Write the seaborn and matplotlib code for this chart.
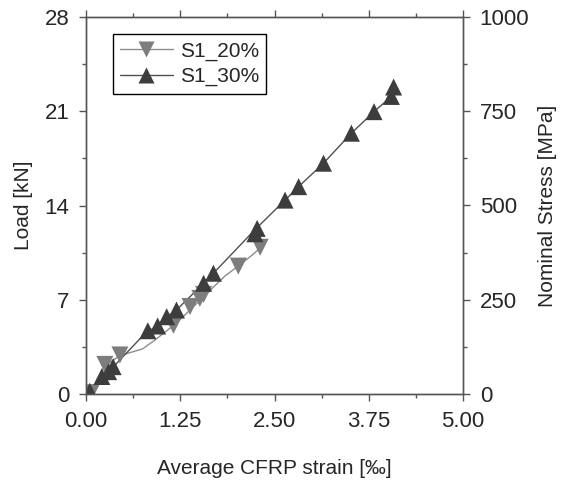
import matplotlib
matplotlib.use("Agg")
import matplotlib.pyplot as plt
from matplotlib.lines import Line2D
from matplotlib.ticker import MultipleLocator
import seaborn as sns
import pandas as pd

sns.set_style("white")
plt.rcParams['font.family'] = ['Liberation Sans', 'DejaVu Sans']

# S1_20% : measured curve and marker points (strain [‰], load [kN])
s20_curve_x = [0.00, 0.07, 0.25, 0.45, 0.60, 0.75, 0.90, 1.05, 1.16, 1.30, 1.40, 1.51, 1.56, 1.70, 1.85, 2.02, 2.12, 2.20, 2.31]
s20_curve_y = [0.00, 0.10, 2.10, 2.85, 3.10, 3.35, 3.95, 4.60, 5.10, 5.80, 6.36, 6.95, 7.20, 8.00, 8.80, 9.50, 9.95, 10.30, 10.85]
s20_mark_x = [0.07, 0.25, 0.45, 1.16, 1.38, 1.51, 1.56, 2.02, 2.31]
s20_mark_y = [0.10, 2.20, 2.90, 5.10, 6.50, 7.10, 7.40, 9.50, 10.90]

# S1_30%
s30_curve_x = [0.00, 0.05, 0.21, 0.30, 0.36, 0.58, 0.80, 0.95, 1.07, 1.20, 1.56, 1.69, 2.24, 2.64, 2.82, 3.15, 3.52, 3.82, 4.05, 4.08]
s30_curve_y = [0.00, 0.20, 1.30, 1.70, 2.00, 3.30, 4.60, 5.05, 5.74, 6.24, 8.22, 8.97, 12.20, 14.40, 15.40, 17.14, 19.37, 20.97, 22.10, 22.80]
s30_mark_x = [0.05, 0.21, 0.30, 0.36, 0.82, 0.95, 1.07, 1.20, 1.56, 1.69, 2.24, 2.27, 2.64, 2.82, 3.15, 3.52, 3.82, 4.05, 4.08]
s30_mark_y = [0.20, 1.30, 1.66, 2.03, 4.70, 5.05, 5.74, 6.24, 8.22, 8.97, 11.90, 12.30, 14.40, 15.40, 17.14, 19.37, 20.97, 22.10, 22.80]

x_ticks = [0.00, 1.25, 2.50, 3.75, 5.00]
x_tick_labels = ["0.00", "1.25", "2.50", "3.75", "5.00"]
load_ticks = [0, 7, 14, 21, 28]
stress_ticks = [0, 250, 500, 750, 1000]

c20_line, c20_mark = "#8c8c8c", "#7d7d7d"
c30_line, c30_mark = "#505050", "#3d3d3d"
axis_col = "#555555"
fs_tick = 16
fs_lab = 15

fig = plt.figure(figsize=(5.61, 4.88), dpi=100)
ax = fig.add_axes([86/561, 1-394/488, (463-86)/561, (394-17)/488])

c20 = pd.DataFrame({"x": s20_curve_x, "y": s20_curve_y})
c30 = pd.DataFrame({"x": s30_curve_x, "y": s30_curve_y})
m20 = pd.DataFrame({"x": s20_mark_x, "y": s20_mark_y})
m30 = pd.DataFrame({"x": s30_mark_x, "y": s30_mark_y})

sns.lineplot(data=c20, x="x", y="y", ax=ax, color=c20_line, lw=1.0, sort=False, estimator=None)
sns.lineplot(data=c30, x="x", y="y", ax=ax, color=c30_line, lw=1.0, sort=False, estimator=None)
sns.scatterplot(data=m20, x="x", y="y", ax=ax, marker="v", s=150, color=c20_mark, edgecolor="none", zorder=3)
sns.scatterplot(data=m30, x="x", y="y", ax=ax, marker="^", s=150, color=c30_mark, edgecolor="none", zorder=4)

ax.set_xlim(0, 5)
ax.set_ylim(0, 28)
ax.set_xticks(x_ticks)
ax.set_xticklabels(x_tick_labels)
ax.set_yticks(load_ticks)
ax.xaxis.set_minor_locator(MultipleLocator(0.625))
ax.yaxis.set_minor_locator(MultipleLocator(3.5))
ax.set_xlabel("Average CFRP strain [‰]", fontsize=fs_lab, labelpad=20)
ax.set_ylabel("Load [kN]", fontsize=fs_lab, labelpad=8)

ax2 = ax.twinx()
ax2.set_ylim(0, 1000)
ax2.set_yticks(stress_ticks)
ax2.yaxis.set_minor_locator(MultipleLocator(125))
ax2.set_ylabel("Nominal Stress [MPa]", fontsize=fs_lab, labelpad=6)

for a in (ax, ax2):
    for sp in a.spines.values():
        sp.set_color(axis_col)
        sp.set_linewidth(1.0)
        sp.set_visible(True)
    a.tick_params(which="major", direction="out", length=5, width=1.0, color=axis_col, labelsize=fs_tick, pad=7)
    a.tick_params(which="minor", direction="out", length=2.7, width=1.0, color=axis_col)
ax.tick_params(which="both", top=True, bottom=True, left=True, right=False, labeltop=False)
ax2.tick_params(which="both", right=True, left=False)
ax2.grid(False)
ax.grid(False)

handles = [
    Line2D([], [], color=c20_line, lw=1.0, marker="v", markersize=12, markerfacecolor=c20_mark, markeredgecolor="none"),
    Line2D([], [], color=c30_line, lw=1.0, marker="^", markersize=12, markerfacecolor=c30_mark, markeredgecolor="none"),
]
leg = ax.legend(handles, ["S1_20%", "S1_30%"], loc="upper left", bbox_to_anchor=(0.072, 0.954),
                fontsize=15, frameon=True, fancybox=False, framealpha=1, edgecolor="black",
                handlelength=2.5, handletextpad=0.35, borderpad=0.35, labelspacing=0.3, borderaxespad=0)
leg.get_frame().set_linewidth(1.0)

fig.savefig("out.png", dpi=100)
